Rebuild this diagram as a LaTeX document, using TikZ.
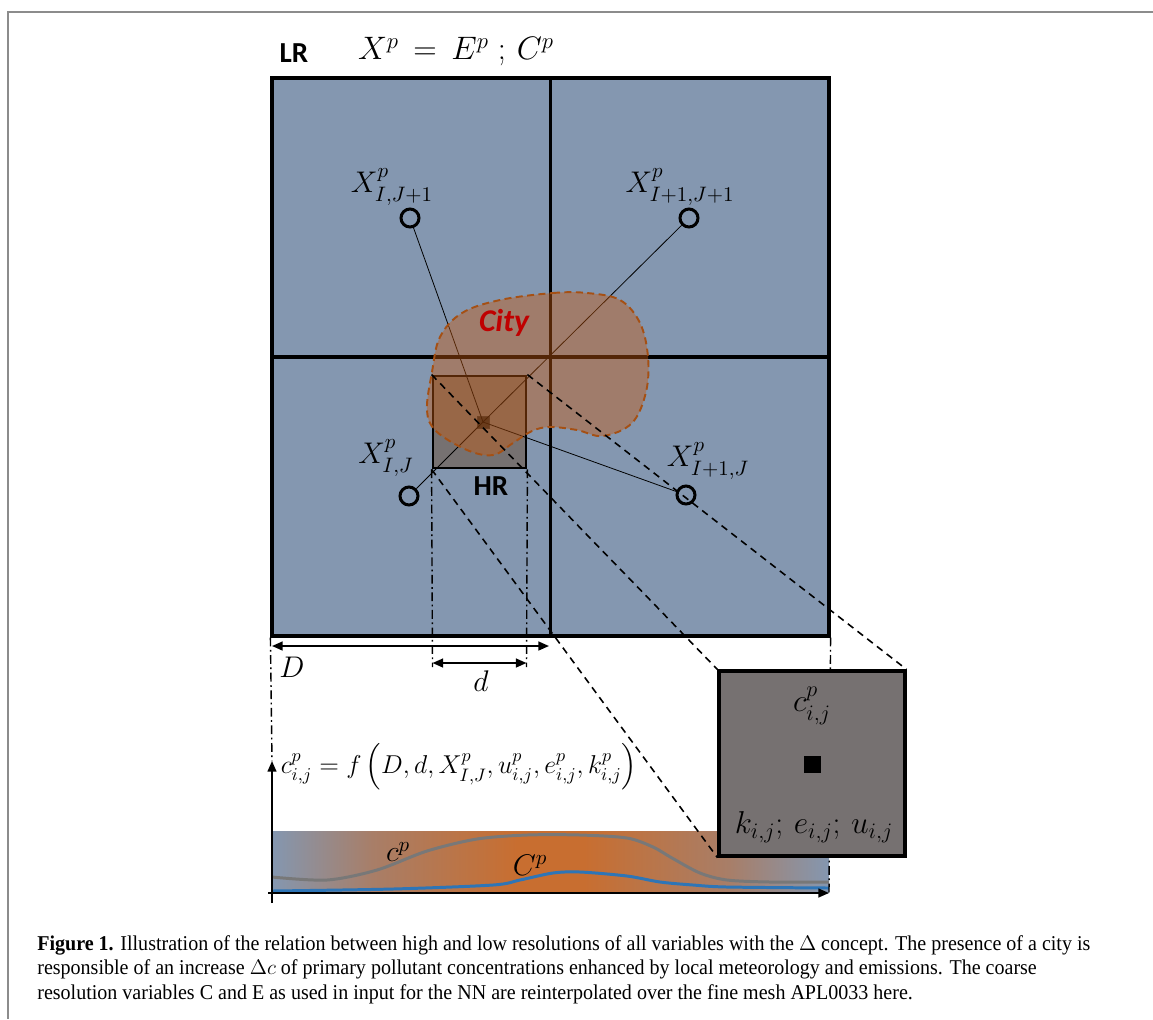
\RequirePackage{fix-cm}
\documentclass[tikz,border=0pt]{standalone}
\usepackage{amsmath,amssymb}
\usepackage{fontspec}
\usepackage{tikz}
\usetikzlibrary{arrows.meta, positioning, calc}
\newfontfamily\calibri{Carlito}
\newfontfamily\capfont[FakeStretch=0.95]{Liberation Serif}
\definecolor{cLR}{RGB}{132,151,176}
\definecolor{cHR}{RGB}{118,113,113}
\definecolor{cCity}{RGB}{197,90,17}
\definecolor{cCityLine}{RGB}{165,80,20}
\definecolor{cCityText}{RGB}{192,0,0}
\definecolor{cMid}{RGB}{200,110,48}
\definecolor{cMix}{RGB}{168,126,104}
\definecolor{cGrayCurve}{RGB}{120,120,120}
\definecolor{cBlueCurve}{RGB}{46,117,182}
\definecolor{cFrame}{RGB}{140,140,140}
\newcommand{\pxu}{0.02cm}
\pgfdeclarelayer{front}
\pgfsetlayers{main,front}
\pgfdeclarehorizontalshading{profileshade}{100bp}{color(0bp)=(cLR);
  color(25bp)=(cLR); color(34bp)=(cMix); color(47bp)=(cMid); color(53bp)=(cMid);
  color(66bp)=(cMix); color(75bp)=(cLR); color(100bp)=(cLR)}
\tikzset{
  lrbox/.style={rectangle, draw=black, line width=1.8pt, fill=cLR,
                minimum width=557*\pxu, minimum height=558*\pxu, inner sep=0pt},
  gridline/.style={line width=1.8pt, black},
  hrbox/.style={rectangle, draw=black, line width=1.6pt, fill=cHR,
                minimum width=93*\pxu, minimum height=92*\pxu, inner sep=0pt},
  zoombox/.style={rectangle, draw=black, line width=1.8pt, fill=cHR,
                  minimum width=186*\pxu, minimum height=185*\pxu, inner sep=0pt},
  cellmark/.style={rectangle, draw=black!80, fill=black!85, line width=0.4pt,
                   minimum size=12*\pxu, inner sep=0pt},
  bigmark/.style={rectangle, fill=black, minimum size=17*\pxu, inner sep=0pt},
  gridpt/.style={circle, draw=black, line width=1.7pt, minimum size=18*\pxu,
                 inner sep=0pt},
  boldlabel/.style={font=\calibri\bfseries\fontsize{16.5}{18}\selectfont, inner sep=0pt},
  citylabel/.style={font=\calibri\bfseries\itshape\fontsize{18}{20}\selectfont,
                    text=cCityText, inner sep=0pt},
  mathlabel/.style={font=\fontsize{17}{20}\selectfont, inner sep=0pt},
  thinline/.style={line width=0.45pt, black},
  city/.style={draw=cCityLine, line width=1.1pt, dash pattern=on 4pt off 2.5pt,
               fill=cCity, fill opacity=0.43},
  projline/.style={line width=0.9pt, black, dash pattern=on 4pt off 3pt},
  guideline/.style={line width=0.8pt, black,
                    dash pattern=on 5pt off 2pt on 1pt off 2pt},
  dimarrow/.style={{Triangle[length=6pt,width=5pt]}-{Triangle[length=6pt,width=5pt]},
                   line width=1pt},
  axisarrow/.style={-{Triangle[length=6pt,width=5pt]}, line width=0.9pt},
  graycurve/.style={line width=1.7pt, cGrayCurve},
  bluecurve/.style={line width=1.7pt, cBlueCurve},
  framebox/.style={line width=1.1pt, cFrame}
}

\begin{document}
\begin{tikzpicture}[x=\pxu, y=-\pxu]
  \useasboundingbox (0,0) rectangle (1153,1019);
  \draw[framebox] (1153,12) -- (8,12) -- (8,1019);

  % low resolution grid
  \node[lrbox] (lr) at (550.5,357) {};
  \draw[gridline] (lr.north) -- (lr.south);
  \draw[gridline] (lr.west) -- (lr.east);
  \node[boldlabel] (lrl) at (294,53) {LR};
  \node[mathlabel, font=\fontsize{18.5}{20}\selectfont] (xdef) at (456,52)
    {$X^p \,=\, E^p\;;\,C^p$};

  % high resolution cell
  \node[hrbox] (hr) at (479.5,422) {};
  \node[boldlabel] (hrl) at (491,486) {HR};
  \node[cellmark] (ctr) at (483,422) {};

  % coarse grid points
  \node[gridpt] (p00) at (409,496) {};
  \node[gridpt] (p10) at (686,495) {};
  \node[gridpt] (p01) at (410,218) {};
  \node[gridpt] (p11) at (689,218) {};
  \node[mathlabel] (l00) at (386,458) {$X^p_{I,J}$};
  \node[mathlabel] (l10) at (708,461) {$X^p_{I+1,J}$};
  \node[mathlabel] (l01) at (392,187) {$X^p_{I,J+1}$};
  \node[mathlabel] (l11) at (680,187) {$X^p_{I+1,J+1}$};
  \foreach \p in {p00,p10,p01,p11}
    \draw[thinline] (ctr.center) -- (\p);

  % city
  \draw[city] plot[smooth cycle, tension=0.6] coordinates {
    (500,300) (553,293) (587,293) (620,300) (640,323) (648,357) (646,392)
    (632,423) (603,436) (577,430) (550,427) (532,431) (513,443) (493,455)
    (467,450) (436,431) (427,410) (432,372) (440,337) (462,313)};
  \node[citylabel] (city) at (504,323) {City};

  % profile along the section
  \shade[shading=profileshade] (272,831) rectangle (829,892);
  \draw[graycurve] plot[smooth, tension=0.5] coordinates {
    (272,877) (327,880) (377,870) (427,851) (477,839) (527,835) (580,835)
    (627,838) (653,847) (672,858) (700,873) (727,880) (770,882) (829,882)};
  \draw[bluecurve] plot[smooth, tension=0.5] coordinates {
    (272,891) (393,889) (493,885) (520,880) (553,873) (580,872) (627,876)
    (660,882) (693,885) (727,887) (829,888)};
  \node[mathlabel] (cfine) at (398,852) {$c^p$};
  \node[mathlabel] (ccoarse) at (530,865) {$C^p$};

  % axes
  \coordinate (ax0) at (268,893);
  \coordinate (axx) at (829,893);
  \coordinate (ay0) at (272,903);
  \coordinate (ayy) at (272,761);
  \draw[axisarrow] (ax0) -- (axx);
  \draw[axisarrow] (ay0) -- (ayy);
  \node[mathlabel, font=\fontsize{14.7}{18}\selectfont] (fml) at (459,767)
    {$c^p_{i,j} = f\,\Big(D, d, X^p_{I,J}, u^p_{i,j}, e^p_{i,j}, k^p_{i,j}\Big)$};

  % dimensions
  \coordinate (Dl) at (272,646);
  \coordinate (Dr) at (549,646);
  \coordinate (dl) at (432.5,663);
  \coordinate (dr) at (526.5,663);
  \draw[dimarrow] (Dl) -- (Dr);
  \draw[dimarrow] (dl) -- (dr);
  \node[mathlabel] (Dlab) at (292,667) {$D$};
  \node[mathlabel] (dlab) at (481,681) {$d$};
  \draw[guideline] (lr.south west) -- (ayy);
  \draw[guideline] (hr.south west) -- ($(dl)+(0,4)$);
  \draw[guideline] (hr.south east) -- ($(dr)+(0,4)$);
  \draw[guideline] (lr.south east) -- (axx);

  % zoomed cell
  \begin{pgfonlayer}{front}
    \node[zoombox] (zb) at (812,763.5) {};
    \node[mathlabel, font=\fontsize{18}{20}\selectfont] (zc) at (812,706) {$c^p_{i,j}$};
    \node[bigmark] (zm) at (812,764) {};
    \node[mathlabel, font=\fontsize{18}{20}\selectfont] (zv) at (814,827)
      {$k_{i,j};\,e_{i,j};\,u_{i,j}$};
  \end{pgfonlayer}
  \foreach \c in {north west, north east, south west}
    \draw[projline] (hr.\c) -- (zb.\c);

  \node[anchor=north west, align=left, inner sep=0pt,
        font=\capfont\fontsize{12}{14}\selectfont] (cap) at (37,935)
    {\textbf{Figure 1.} Illustration of the relation between high and low resolutions of all variables with the $\Delta$ concept. The presence of a city is\\
     responsible of an increase $\Delta c$ of primary pollutant concentrations enhanced by local meteorology and emissions. The coarse\\
     resolution variables C and E as used in input for the NN are reinterpolated over the fine mesh APL0033 here.};
\end{tikzpicture}
\end{document}
